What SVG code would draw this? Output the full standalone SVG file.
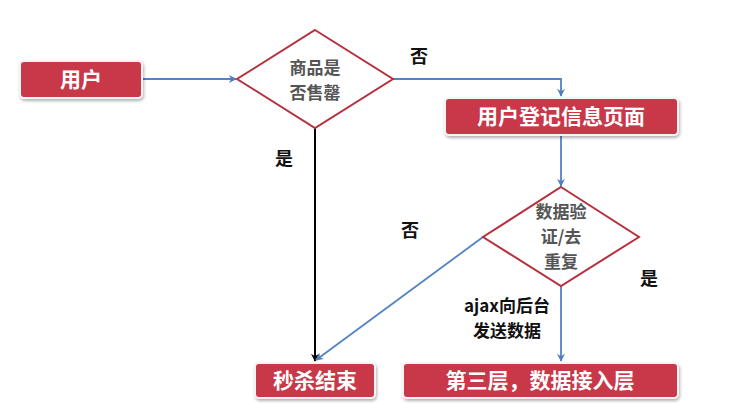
<svg xmlns="http://www.w3.org/2000/svg" width="750" height="403" viewBox="0 0 750 403">
<defs>
<marker id="ab" viewBox="0 0 10 10" refX="9" refY="5" markerWidth="8" markerHeight="8" orient="auto" markerUnits="userSpaceOnUse"><path d="M0,0 L10,5 L0,10 L3,5 Z" fill="#4f7fc0"/></marker>
<marker id="ak" viewBox="0 0 10 10" refX="9" refY="5" markerWidth="8" markerHeight="8" orient="auto" markerUnits="userSpaceOnUse"><path d="M0,0 L10,5 L0,10 L3,5 Z" fill="#000"/></marker>
<filter id="sh" x="-10%" y="-20%" width="120%" height="150%"><feDropShadow dx="1" dy="2" stdDeviation="1.5" flood-color="#000" flood-opacity="0.3"/></filter>
</defs>
<style>
.box{fill:#c8374a;stroke:#f4f4f4;stroke-width:2;filter:url(#sh)}
.bt{font-family:"Noto Sans CJK SC","Liberation Sans",sans-serif;font-weight:bold;font-size:21px;fill:#fff;text-anchor:middle}
.dia{fill:#fff;stroke:#b5313f;stroke-width:2}
.dt{font-family:"Noto Sans CJK SC","Liberation Sans",sans-serif;font-weight:bold;font-size:17px;fill:#555;text-anchor:middle}
.lb{font-family:"Noto Sans CJK SC","Liberation Sans",sans-serif;font-weight:bold;font-size:18px;fill:#111;text-anchor:middle}
.lb2{font-family:"Noto Sans CJK SC","Liberation Sans",sans-serif;font-weight:bold;font-size:17px;fill:#111;text-anchor:middle}
.cb{fill:none;stroke:#5283c2;stroke-width:1.8}
.ck{fill:none;stroke:#000;stroke-width:2}
</style>
<rect width="750" height="403" fill="#fff"/>
<g id="connectors">
<path class="cb" d="M143,79 L236,79" marker-end="url(#ab)"/>
<path class="cb" d="M393,79 L561,79 L561,96" marker-end="url(#ab)"/>
<path class="cb" d="M561,136 L561,186" marker-end="url(#ab)"/>
<path class="ck" d="M315,128 L315,361" marker-end="url(#ak)"/>
<path class="cb" d="M483,237 L316,360" marker-end="url(#ab)"/>
<path class="cb" d="M561,285 L561,361" marker-end="url(#ab)"/>
</g>
<g id="user"><rect class="box" x="20" y="61" width="122" height="37" rx="4"/><text class="bt" x="81" y="87">用户</text></g>
<g id="soldout"><polygon class="dia" points="315,30 393,79 315,128 237,79"/><text class="dt" x="315" y="74">商品是</text><text class="dt" x="315" y="99">否售罄</text></g>
<g id="register"><rect class="box" x="445" y="98" width="233" height="37" rx="4"/><text class="bt" x="561" y="124">用户登记信息页面</text></g>
<g id="validate"><polygon class="dia" points="561,187 639,237 561,286 483,237"/><text class="dt" x="561" y="218">数据验</text><text class="dt" x="561" y="243">证/去</text><text class="dt" x="561" y="268">重复</text></g>
<g id="end"><rect class="box" x="255" y="363" width="120" height="35" rx="4"/><text class="bt" x="315" y="388">秒杀结束</text></g>
<g id="layer3"><rect class="box" x="403" y="363" width="275" height="35" rx="4"/><text class="bt" x="540" y="388">第三层，数据接入层</text></g>
<g id="labels">
<text class="lb" x="419" y="63">否</text>
<text class="lb" x="284" y="165">是</text>
<text class="lb" x="410" y="237">否</text>
<text class="lb" x="649" y="285">是</text>
<text class="lb2" x="507" y="312">ajax向后台</text>
<text class="lb2" x="507" y="337">发送数据</text>
</g>
</svg>
